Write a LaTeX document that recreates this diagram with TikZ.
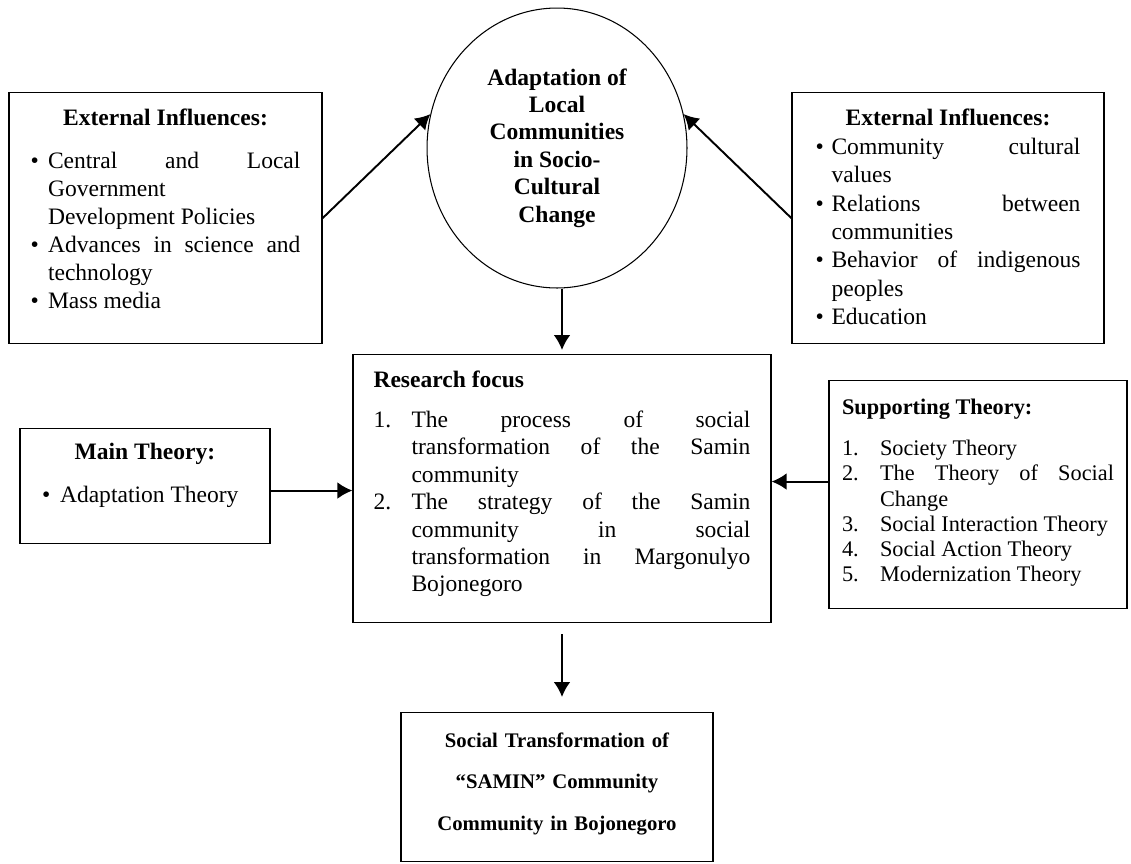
\documentclass[tikz,border=0pt]{standalone}
\usepackage{fontspec}
\setmainfont{Liberation Serif}
\usepackage{tikz}
\usetikzlibrary{positioning,arrows.meta,calc,shapes.geometric}
\hyphenpenalty=10000
\exhyphenpenalty=10000
\tolerance=10000
\newcommand{\bitem}[2][0.35cm]{\par\hangindent=#1\hangafter=1\noindent\makebox[#1][l]{\textbullet}#2}
\newcommand{\nitem}[2]{\par\hangindent=0.76cm\hangafter=1\noindent\makebox[0.76cm][l]{#1}#2}
\tikzset{
    box/.style = {
        draw,
        shape=rectangle,
        anchor=north,
        align=justify,
        inner ysep=0pt,
        line width=0.75pt,
        font=\fontsize{13.4}{15.9}\selectfont
    },
    bubble/.style = {
        draw,
        shape=ellipse,
        inner sep=0pt,
        minimum width=5.2cm,
        minimum height=5.6cm,
        align=center,
        line width=0.6pt,
        font=\fontsize{13.4}{15.6}\selectfont\bfseries
    },
    link/.style = {
        line width=1.1pt
    },
    >={Latex[length=8.5pt,width=9.5pt]},
}
\begin{document}
\begin{tikzpicture}[x=0.02cm, y=-0.02cm]
    \useasboundingbox (0,0) rectangle (1131,863);

    \node[bubble] (adapt) at (557,148) {Adaptation of\\ Local\\ Communities\\ in Socio-\\ Cultural\\ Change};

    \node[box, text width=5.4cm, inner xsep=0.43cm, text height=0.66cm, text depth=4.36cm] (extin) at (165.5,92) {
        \centerline{\bfseries External Influences:}\vspace{8.5pt}
        \bitem{Central and Local\linebreak Government\newline Development Policies}
        \bitem{Advances in science and\linebreak technology}
        \bitem{Mass media}\par
    };

    \node[box, text width=5.3cm, inner xsep=0.47cm, text height=0.66cm, text depth=4.36cm, font=\fontsize{13.4}{16.2}\selectfont] (extex) at (948,92) {
        \centerline{\bfseries External Influences:}
        \bitem[0.32cm]{Community cultural\linebreak values}
        \bitem[0.32cm]{Relations between\linebreak communities}
        \bitem[0.32cm]{Behavior of indigenous\linebreak peoples}
        \bitem[0.32cm]{Education}\par
    };

    \node[box, text width=7.54cm, inner xsep=0.41cm, text height=0.66cm, text depth=4.7cm, font=\fontsize{13.4}{15.6}\selectfont] (focus) at (562,354) {
        \textbf{Research focus}\par\vspace{7pt}
        \nitem{1.}{The process of social\linebreak transformation of the Samin\linebreak community}
        \nitem{2.}{The strategy of the Samin\linebreak community in social\linebreak transformation in Margonulyo\linebreak Bojonegoro}\par
    };

    \node[box, text width=4.12cm, inner xsep=0.44cm, text height=0.62cm, text depth=1.68cm] (mainth) at (145,428) {
        \centerline{\bfseries Main Theory:}\vspace{8.5pt}
        \bitem[0.36cm]{Adaptation Theory}\par
    };

    \node[box, text width=5.44cm, inner xsep=0.26cm, text height=0.68cm, text depth=3.88cm, font=\fontsize{12.7}{14.4}\selectfont] (supp) at (978,380) {
        \textbf{Supporting Theory:}\par\vspace{8.8pt}
        \nitem{1.}{Society Theory}
        \nitem{2.}{The Theory of Social\linebreak Change}
        \nitem{3.}{Social Interaction Theory}
        \nitem{4.}{Social Action Theory}
        \nitem{5.}{Modernization Theory}\par
    };

    \node[box, text width=5.4cm, inner xsep=0.42cm, text height=0.7cm, text depth=2.28cm, align=center, font=\fontsize{11.8}{23.5}\selectfont\bfseries] (result) at (557,712) {
        Social Transformation of\\ “SAMIN” Community\\ Community in Bojonegoro
    };

    \path[draw, link, ->] (extin.east) -- (adapt.165);
    \path[draw, link, ->] (extex.west) -- (adapt.15);
    \path[draw, link, ->, shorten >=0.08cm] (focus.north |- adapt.south) -- (focus.north);
    \path[draw, link, ->] (mainth.-2) -- (mainth.-2 -| focus.west);
    \path[draw, link, ->] (supp.175.4) -- (supp.175.4 -| focus.east);
    \path[draw, link, ->, shorten <=0.22cm, shorten >=0.3cm] (focus.south) -- (focus.south |- result.north);
\end{tikzpicture}
\end{document}
